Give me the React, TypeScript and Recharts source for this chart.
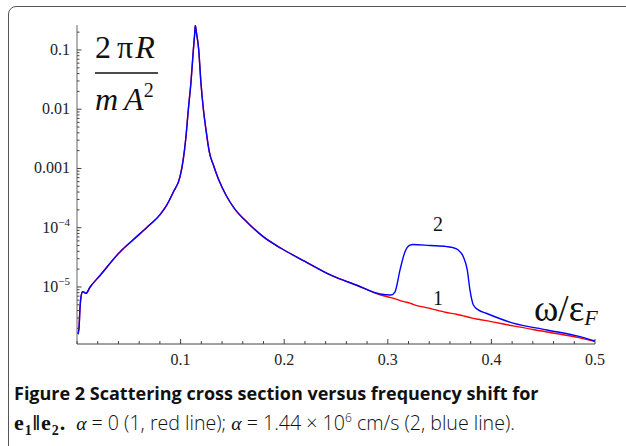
import React from 'react'
import { LineChart, Line, XAxis, YAxis } from 'recharts'

// frequency shift omega / eps_F
const omega = [
  0.0008, 0.0019, 0.0029, 0.0039, 0.0055, 0.0071, 0.0087, 0.0125, 0.022, 0.0415,
  0.054, 0.0705, 0.08, 0.0866, 0.093, 0.0994, 0.1025, 0.105, 0.1075, 0.1101,
  0.1123, 0.1135, 0.1142, 0.1152, 0.1175, 0.1195, 0.122, 0.1245, 0.1277, 0.132,
  0.137, 0.144, 0.152, 0.164, 0.18, 0.197, 0.22, 0.245, 0.27, 0.2925,
  0.303, 0.307, 0.3118, 0.3166, 0.3214, 0.3243, 0.3407, 0.3568, 0.363, 0.368,
  0.3729, 0.3767, 0.3793, 0.3825, 0.3874, 0.395, 0.421, 0.4537, 0.4855, 0.5,
]

// curve 1, alpha = 0 (red)
const sigma1 = [
  1.6e-6, 2.0e-6, 4.4e-6, 6.9e-6, 8.3e-6, 8.1e-6, 7.8e-6, 9.9e-6, 1.55e-5, 3.9e-5,
  6.2e-5, 1.13e-4, 1.65e-4, 2.4e-4, 4.0e-4, 7.2e-4, 1.4e-3, 3.2e-3, 0.01, 0.03,
  0.1, 0.18, 0.26, 0.2, 0.1, 0.03, 0.01, 4.5e-3, 1.9e-3, 1.1e-3,
  6.3e-4, 3.5e-4, 2.1e-4, 1.25e-4, 7e-5, 4.5e-5, 2.7e-5, 1.58e-5, 1.07e-5, 7.4e-6,
  6.6e-6, 6.3e-6, 5.9e-6, 5.6e-6, 5.35e-6, 5.1e-6, 4.35e-6, 3.7e-6, 3.55e-6, 3.4e-6,
  3.25e-6, 3.13e-6, 3.05e-6, 2.95e-6, 2.85e-6, 2.7e-6, 2.2e-6, 1.74e-6, 1.38e-6, 1.2e-6,
]

// curve 2, alpha = 1.44e6 cm/s (blue)
const sigma2 = [
  1.6e-6, 2.0e-6, 4.4e-6, 6.9e-6, 8.3e-6, 8.1e-6, 7.8e-6, 9.9e-6, 1.55e-5, 3.9e-5,
  6.2e-5, 1.13e-4, 1.65e-4, 2.4e-4, 4.0e-4, 7.2e-4, 1.4e-3, 3.2e-3, 0.01, 0.03,
  0.1, 0.18, 0.26, 0.2, 0.1, 0.03, 0.01, 4.5e-3, 1.9e-3, 1.1e-3,
  6.3e-4, 3.5e-4, 2.1e-4, 1.25e-4, 7e-5, 4.5e-5, 2.7e-5, 1.58e-5, 1.07e-5, 7.6e-6,
  7.3e-6, 8.3e-6, 1.94e-5, 3.94e-5, 5.1e-5, 5.2e-5, 5.0e-5, 4.8e-5, 4.6e-5, 4.2e-5,
  3.25e-5, 1.94e-5, 8.9e-6, 5.0e-6, 4.1e-6, 3.6e-6, 2.45e-6, 1.88e-6, 1.45e-6, 1.22e-6,
]

const xMajor = [0.1, 0.2, 0.3, 0.4, 0.5]
const xLabels = ['0.1', '0.2', '0.3', '0.4', '0.5']
const xMinor = [0, 0.02, 0.04, 0.06, 0.08, 0.12, 0.14, 0.16, 0.18, 0.22, 0.24, 0.26, 0.28,
  0.32, 0.34, 0.36, 0.38, 0.42, 0.44, 0.46, 0.48]

const yMajor = [1e-5, 1e-4, 0.001, 0.01, 0.1]
const yLabelBase = ['10', '10', '0.001', '0.01', '0.1']
const yLabelExp = ['\u22125', '\u22124', '', '', '']

const Y_MIN = 1.09e-6
const Y_MAX = 0.264

const yMinor: number[] = []
for (const d of [1e-6, 1e-5, 1e-4, 1e-3, 1e-2, 1e-1]) {
  for (let m = 2; m <= 9; m++) {
    const v = m * d
    if (v > Y_MIN && v < Y_MAX) yMinor.push(v)
  }
}

const data = omega.map((w, i) => ({ w, s1: sigma1[i], s2: sigma2[i] }))

const serif = '"Liberation Serif", "DejaVu Serif", serif'
const sans = '"Open Sans", Lato, sans-serif'
const axisColor = '#444'

const near = (a: number, b: number) => Math.abs(a - b) <= Math.abs(b) * 1e-6 + 1e-12

const XTick = (props: any) => {
  const { x, y, payload } = props
  const i = xMajor.findIndex((t) => near(payload.value, t))
  if (i < 0) {
    return <line x1={x} x2={x} y1={y} y2={y - 3} stroke={axisColor} strokeWidth={1} />
  }
  return (
    <g>
      <line x1={x} x2={x} y1={y} y2={y - 5} stroke={axisColor} strokeWidth={1} />
      <text x={x} y={y + 21} textAnchor="middle" fontFamily={serif} fontSize={16} fill="#222">
        {xLabels[i]}
      </text>
    </g>
  )
}

const YTick = (props: any) => {
  const { x, y, payload } = props
  const i = yMajor.findIndex((t) => near(payload.value, t))
  if (i < 0) {
    return <line x1={x} x2={x + 2.5} y1={y} y2={y} stroke={axisColor} strokeWidth={1} />
  }
  return (
    <g>
      <line x1={x} x2={x + 4.5} y1={y} y2={y} stroke={axisColor} strokeWidth={1} />
      <text x={x - 7} y={y + 5} textAnchor="end" fontFamily={serif} fontSize={16} fill="#222">
        <tspan>{yLabelBase[i]}</tspan>
        {yLabelExp[i] && <tspan dy={-7} fontSize={11}>{yLabelExp[i]}</tspan>}
      </text>
    </g>
  )
}

const App: React.FC = () => {
  return (
    <div style={{ position: 'absolute', left: 0, top: 0, width: 626, height: 446, overflow: 'hidden', background: '#fff' }}>
      <div
        style={{
          position: 'absolute', left: 8, top: 6, width: 660, height: 480,
          border: '1.5px solid #555', borderRadius: 8, boxSizing: 'border-box',
        }}
      />
      <div style={{ position: 'absolute', left: 0, top: 0 }}>
        <LineChart width={626} height={446} data={data} margin={{ top: 25, right: 31, left: 17, bottom: 72 }}>
          <XAxis
            dataKey="w"
            type="number"
            domain={[0, 0.5]}
            ticks={[...xMinor, ...xMajor]}
            interval={0}
            height={30}
            tickSize={0}
            tickMargin={0}
            tickLine={false}
            tick={<XTick />}
            axisLine={{ stroke: axisColor, strokeWidth: 1 }}
            allowDataOverflow
          />
          <YAxis
            type="number"
            scale="log"
            domain={[Y_MIN, Y_MAX]}
            ticks={[...yMinor, ...yMajor]}
            interval={0}
            width={60}
            tickSize={0}
            tickMargin={0}
            tickLine={false}
            tick={<YTick />}
            axisLine={{ stroke: '#666', strokeWidth: 1 }}
            allowDataOverflow
          />
          <Line type="monotone" dataKey="s1" stroke="#ff0000" strokeWidth={1.4} dot={false} isAnimationActive={false} />
          <Line type="monotone" dataKey="s2" stroke="#0000ff" strokeWidth={1.4} dot={false} isAnimationActive={false} />
        </LineChart>
      </div>
      <svg width={626} height={446} style={{ position: 'absolute', left: 0, top: 0, pointerEvents: 'none' }}>
        <g fontFamily={serif} fill="#111">
          <text x={95} y={58} fontSize={32}>
            <tspan>2</tspan>
            <tspan dx={6}>π</tspan>
            <tspan dx={2} fontStyle="italic">R</tspan>
          </text>
          <line x1={95} x2={158} y1={73} y2={73} stroke="#111" strokeWidth={1.6} />
          <text x={95} y={110} fontSize={32}>
            <tspan fontStyle="italic">m</tspan>
            <tspan dx={6} fontStyle="italic">A</tspan>
            <tspan dy={-13} fontSize={20}>2</tspan>
          </text>
          <text x={438} y={231} fontSize={20} textAnchor="middle">2</text>
          <text x={438} y={305} fontSize={20} textAnchor="middle">1</text>
          <text x={534} y={321} fontSize={37}>
            <tspan>ω/ε</tspan>
            <tspan dy={4} fontSize={22} fontStyle="italic">F</tspan>
          </text>
        </g>
      </svg>
      <div
        style={{
          position: 'absolute', left: 14, top: 381, fontFamily: sans,
          fontSize: 18, fontWeight: 700, color: '#111', whiteSpace: 'nowrap', lineHeight: '24px',
        }}
      >
        Figure 2 Scattering cross section versus frequency shift for
      </div>
      <div
        style={{
          position: 'absolute', left: 14, top: 406, fontFamily: sans,
          fontSize: 19.6, fontWeight: 300, color: '#111', whiteSpace: 'nowrap', lineHeight: '24px',
        }}
      >
        <span style={{ fontFamily: serif, fontWeight: 700, fontSize: 22, letterSpacing: 1 }}>
          e<sub style={{ fontSize: 14 }}>1</sub>‖e<sub style={{ fontSize: 14 }}>2</sub>.
        </span>
        <span style={{ marginLeft: 10 }}>
          <i style={{ fontFamily: serif }}>α</i> = 0 (1, red line); <i style={{ fontFamily: serif }}>α</i> = 1.44 × 10
          <sup style={{ fontSize: 12 }}>6</sup> cm/s (2, blue line).
        </span>
      </div>
    </div>
  )
}

export default App
